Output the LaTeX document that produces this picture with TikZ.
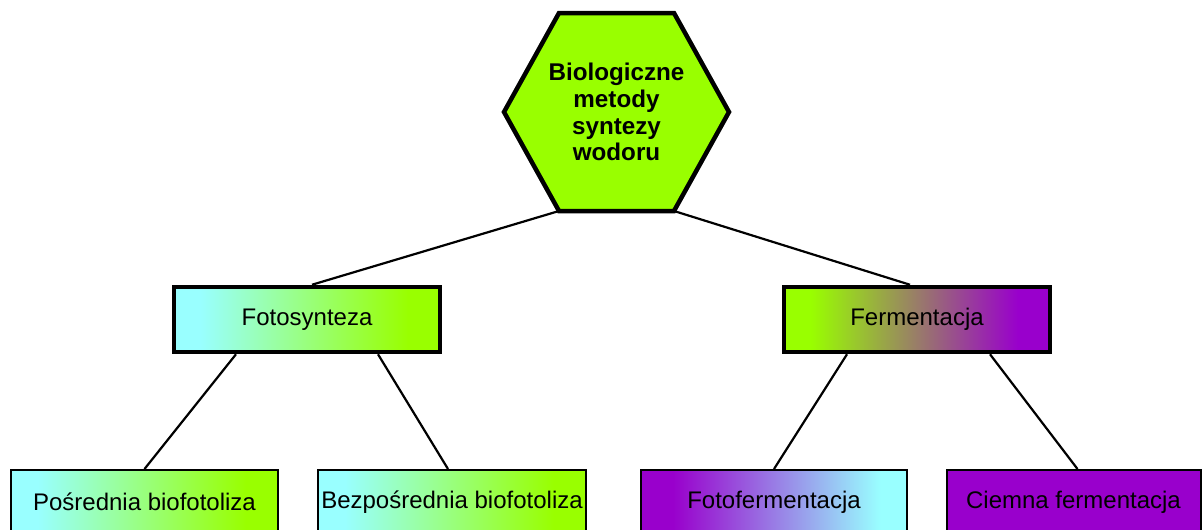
\documentclass[tikz,border=0pt]{standalone}
\usepackage{fontspec}
\setmainfont{Liberation Sans}
\definecolor{cyanc}{RGB}{153,255,255}
\definecolor{greenc}{RGB}{153,255,0}
\definecolor{purplec}{RGB}{153,0,204}
\pgfdeclarehorizontalshading{cyangreen}{100bp}{color(0bp)=(cyanc); color(30bp)=(cyanc); color(69bp)=(greenc); color(100bp)=(greenc)}
\pgfdeclarehorizontalshading{greenpurple}{100bp}{color(0bp)=(greenc); color(30bp)=(greenc); color(69bp)=(purplec); color(100bp)=(purplec)}
\pgfdeclarehorizontalshading{purplecyan}{100bp}{color(0bp)=(purplec); color(31bp)=(purplec); color(70bp)=(cyanc); color(100bp)=(cyanc)}
\begin{document}
\begin{tikzpicture}[x=1pt,y=-1pt,
  midbox/.style={draw=black, line width=4.5pt, minimum width=266pt, minimum height=65pt, inner sep=0pt, font=\fontsize{24}{28}\selectfont},
  lowbox/.style={draw=black, line width=2pt, minimum height=64pt, inner sep=0pt, font=\fontsize{24}{28}\selectfont},
  hexbox/.style={draw=black, line width=4.5pt, fill=greenc, line join=miter},
  hextext/.style={font=\bfseries\fontsize{24.2}{26.7}\selectfont, align=center, inner sep=0pt},
  link/.style={draw=black, line width=2.2pt}]
\clip (0,0) rectangle (1203,530);
% hexagon
\coordinate (htl) at (559,13);
\coordinate (htr) at (674,13);
\coordinate (hr) at (729,112);
\coordinate (hbr) at (674,211);
\coordinate (hbl) at (559,211);
\coordinate (hl) at (504,112);
\draw[hexbox] (htl) -- (htr) -- (hr) -- (hbr) -- (hbl) -- (hl) -- cycle;
\node[hextext] (hex) at (616.5,112) {Biologiczne\\metody\\syntezy\\wodoru};
% middle level
\node[midbox, shade, shading=cyangreen] (fot) at (307,319.5) {Fotosynteza};
\node[midbox, shade, shading=greenpurple] (fer) at (917,319.5) {Fermentacja};
% bottom level
\node[lowbox, minimum width=267pt, shade, shading=cyangreen] (pos) at (144.5,502) {Pośrednia biofotoliza};
\node[lowbox, minimum width=268pt, shade, shading=cyangreen] (bez) at (452,502) {Bezpośrednia biofotoliza};
\node[lowbox, minimum width=266pt, shade, shading=purplecyan] (ffer) at (774,502) {Fotofermentacja};
\node[lowbox, minimum width=254pt, fill=purplec] (ciem) at (1073.5,502) {Ciemna fermentacja};
% connectors
\draw[link] (hbl) -- ([xshift=5pt]fot.north);
\draw[link] (hbr) -- ([xshift=-7pt]fer.north);
\draw[link] ([xshift=-71pt]fot.south) -- (pos.north);
\draw[link] ([xshift=71pt]fot.south) -- ([xshift=-4pt]bez.north);
\draw[link] ([xshift=-70pt]fer.south) -- (ffer.north);
\draw[link] ([xshift=73pt]fer.south) -- ([xshift=4pt]ciem.north);
\end{tikzpicture}
\end{document}
